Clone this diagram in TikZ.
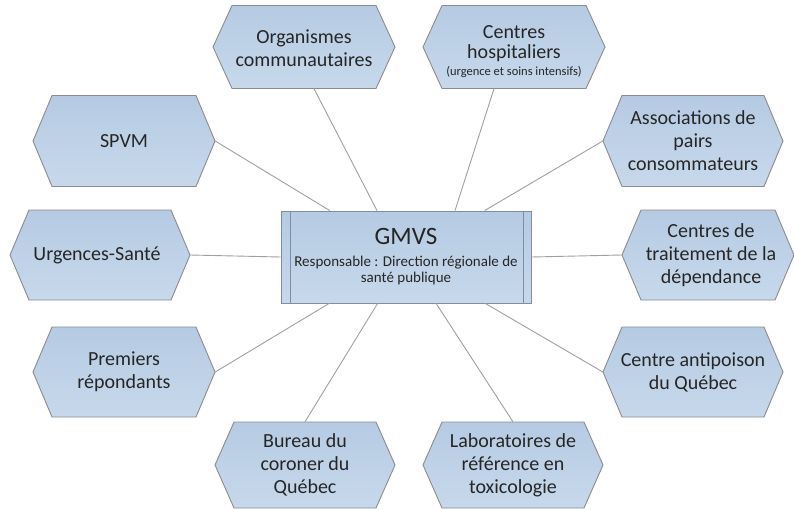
\documentclass[tikz,border=0pt]{standalone}
\usepackage{fontspec}
\setmainfont{Carlito}
\usetikzlibrary{calc}
\definecolor{hexborder}{HTML}{8C8C8C}
\definecolor{boxborder}{HTML}{7D8EA5}
\definecolor{hextop}{HTML}{B5CBE3}
\definecolor{hexbot}{HTML}{C7D8EB}
\definecolor{linkgray}{HTML}{A0A0A0}
\definecolor{txt}{HTML}{262626}
\tikzset{
  hexshape/.style={draw=hexborder, line width=0.9pt, top color=hextop, bottom color=hexbot},
  hexlabel/.style={shape=rectangle, draw=none, inner sep=0pt, align=center, text=txt,
    font=\fontsize{20}{23}\selectfont},
  mainbox/.style={shape=rectangle, draw=boxborder, line width=0.9pt, top color=hextop, bottom color=hexbot,
    minimum width=250pt, minimum height=92pt, inner sep=0pt, align=center, text=txt,
    font=\fontsize{15}{16}\selectfont},
  link/.style={draw=linkgray, line width=0.9pt}
}
\newcommand{\hexnode}[7]{%
  \path[hexshape] (#2-#4/2,#3) -- (#2-#4/2+19,#3-#5/2) -- (#2+#4/2-19,#3-#5/2) -- (#2+#4/2,#3)
     -- (#2+#4/2-19,#3+#5/2) -- (#2-#4/2+19,#3+#5/2) -- cycle;
  \coordinate (#1-c) at (#2,#3);
  \node[hexlabel, minimum width=#4pt, minimum height=#5pt] (#1) at (#2,#3) {};
  \node[hexlabel, #7] (#1-text) at (#2,#3) {#6};
}
\begin{document}
\begin{tikzpicture}[x=1pt, y=-1pt]
\useasboundingbox (0,0) rectangle (794,509);
\fill[white] (0,0) rectangle (794,509);

% central box
\node[mainbox] (gmvs) at (406,257) {{\fontsize{25}{28}\selectfont GMVS}\\[6pt]Responsable : Direction régionale de\\santé publique};
\draw[boxborder, line width=0.9pt] ($(gmvs.north west)+(10,0)$) -- ($(gmvs.south west)+(10,0)$);
\draw[boxborder, line width=0.9pt] ($(gmvs.north east)+(-8,0)$) -- ($(gmvs.south east)+(-8,0)$);

% satellites
\hexnode{org}{304}{47}{182}{83}{Organismes\\communautaires}{yshift=-1pt}
\hexnode{hosp}{514}{47}{182}{83}{Centres\\[-3pt]hospitaliers\\[-6pt]{\fontsize{12.5}{15}\selectfont (urgence et soins intensifs)}}{yshift=-5pt}
\hexnode{spvm}{124}{141}{182}{91}{SPVM}{}
\hexnode{assoc}{693}{141}{180}{91}{Associations de\\pairs\\consommateurs}{}
\hexnode{urg}{100}{255}{180}{90}{Urgences-Santé}{xshift=-3pt}
\hexnode{trait}{708}{255}{172}{90}{Centres de\\traitement de la\\dépendance}{xshift=3pt}
\hexnode{prem}{124}{372}{182}{90}{Premiers\\répondants}{}
\hexnode{anti}{693}{372}{180}{90}{Centre antipoison\\du Québec}{}
\hexnode{bureau}{305}{465}{180}{86}{Bureau du\\coroner du\\Québec}{}
\hexnode{lab}{513}{465}{180}{86}{Laboratoires de\\référence en\\toxicologie}{}

% connectors
\draw[link] ($(org.south)+(10,0)$) -- ($(gmvs.north)+(-29,0)$);
\draw[link] ($(hosp.south)+(-20,0)$) -- ($(gmvs.north)+(49,0)$);
\draw[link] (spvm.east) -- (gmvs);
\draw[link] (assoc.west) -- (gmvs);
\draw[link] (urg.east) -- (gmvs.west);
\draw[link] (trait.west) -- (gmvs.east);
\draw[link] (prem.east) -- (gmvs);
\draw[link] (anti.west) -- (gmvs);
\draw[link] (bureau.north) -- (gmvs);
\draw[link] (lab.north) -- (gmvs);
\end{tikzpicture}
\end{document}
